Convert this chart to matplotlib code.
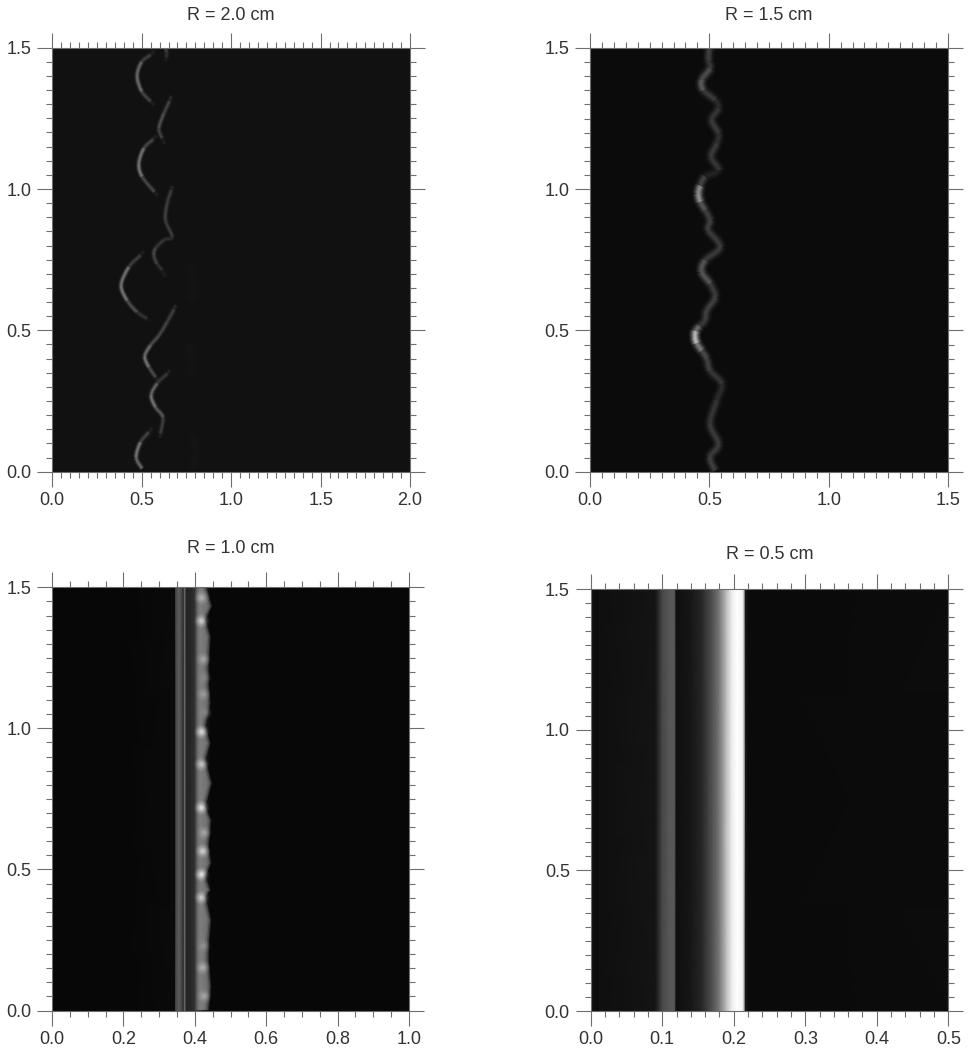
import numpy as np
import matplotlib
matplotlib.use("Agg")
import matplotlib.pyplot as plt
from matplotlib.collections import PathCollection
from matplotlib.path import Path
from matplotlib.ticker import FixedLocator, FormatStrFormatter

plt.rcParams['font.family'] = ['Liberation Sans', 'DejaVu Sans']

# R = 2.0 cm: separate bright strands (x, y, brightness)
r20_arc1_x = [.57, .55, .50, .474, .50, .55, .57]
r20_arc1_y = [1.49, 1.475, 1.45, 1.40, 1.345, 1.31, 1.295]
r20_arc1_b = [.08, .2, .38, .58, .42, .2, .08]
r20_top_x = [.63, .64, .637, .63]
r20_top_y = [1.5, 1.485, 1.465, 1.45]
r20_top_b = [.3, .28, .16, .08]
r20_s1_x = [.665, .655, .624, .596, .614, .63]
r20_s1_y = [1.33, 1.31, 1.268, 1.215, 1.18, 1.16]
r20_s1_b = [.1, .26, .34, .4, .2, .08]
r20_arc2_x = [.585, .564, .512, .484, .502, .571, .59]
r20_arc2_y = [1.19, 1.176, 1.144, 1.09, 1.044, .99, .975]
r20_arc2_b = [.08, .22, .42, .65, .46, .2, .08]
r20_s2_x = [.67, .665, .642, .633, .67, .625, .577, .568, .586, .614, .63]
r20_s2_y = [1.01, .996, .949, .89, .831, .82, .79, .765, .735, .713, .69]
r20_s2_b = [.1, .26, .3, .3, .26, .16, .34, .34, .26, .18, .08]
r20_arc3_x = [.51, .493, .428, .385, .418, .474, .53, .55]
r20_arc3_y = [.78, .766, .724, .66, .606, .565, .541, .53]
r20_arc3_b = [.08, .2, .38, .68, .42, .32, .14, .08]
r20_s3_x = [.69, .68, .642, .596, .549, .517, .54, .577, .59]
r20_s3_y = [.59, .574, .53, .482, .447, .408, .37, .335, .32]
r20_s3_b = [.1, .28, .3, .34, .36, .62, .46, .22, .08]
r20_s4_x = [.655, .642, .586, .553, .577, .618, .605, .6]
r20_s4_y = [.36, .347, .312, .27, .228, .193, .135, .12]
r20_s4_b = [.1, .22, .3, .64, .46, .36, .22, .08]
r20_arc4_x = [.56, .54, .493, .469, .502]
r20_arc4_y = [.155, .14, .104, .051, .011]
r20_arc4_b = [.08, .2, .42, .68, .28]
r20_faint_x = [.77, .79, .78]
r20_faint_y = [.74, .66, .60]
r20_faint2_x = [.76, .78, .77]
r20_faint2_y = [.45, .40, .34]
r20_faint3_x = [.79, .80, .79]
r20_faint3_y = [.13, .07, .01]

# R = 1.5 cm: one wavy ridge
r15_x = [.500, .496, .503, .468, .475, .524, .538, .510, .538, .531, .507, .538, .482, .462, .454, .462, .482,
         .503, .496, .545, .482, .468, .503, .524, .489, .482, .458, .443, .440, .447, .468, .489, .503, .552,
         .531, .503, .538, .503, .524]
r15_y = [1.499, 1.458, 1.428, 1.387, 1.351, 1.316, 1.286, 1.245, 1.198, 1.162, 1.115, 1.068, 1.044, 1.012, .985,
         .955, .926, .890, .855, .796, .748, .707, .666, .618, .571, .536, .515, .498, .477, .455, .429, .400,
         .358, .311, .252, .169, .098, .051, .004]
r15_b = [.3, .3, .22, .5, .35, .2, .2, .3, .25, .2, .35, .15, .18, .45, .85, .5, .3, .3, .3, .25, .3, .5, .3, .25,
         .35, .25, .3, .7, 1.0, .75, .4, .3, .3, .2, .2, .3, .25, .3, .3]

# R = 1.0 cm: vertical band profile, wavy edge of the ridge, bright blobs
r10_profile_x = [0, .2, .33, .345, .347, .355, .362, .366, .369, .371, .374, .377, .39, .40, .41, .425, .445, 1.0]
r10_profile_v = [.03, .03, .04, .05, .28, .36, .30, .22, .18, .42, .30, .14, .16, .2, .24, .14, .03, .03]
r10_edge_x = [.433, .447, .429, .443, .441, .438, .438, .443, .429, .443, .429, .447, .429, .445, .438, .445,
              .429, .443, .429, .445, .438, .438, .445, .438]
r10_edge_y = [1.499, 1.434, 1.387, 1.328, 1.280, 1.221, 1.162, 1.091, 1.008, .949, .890, .807, .725, .677, .583,
              .524, .477, .429, .406, .323, .229, .181, .087, .004]
r10_blob_x = [.419, .419, .424, .426, .424, .428, .419, .419, .419, .426, .422, .419, .419, .424, .422, .426]
r10_blob_y = [1.463, 1.381, 1.245, 1.180, 1.121, 1.056, .988, .873, .719, .630, .565, .482, .400, .228, .152, .051]
r10_blob_b = [.75, .9, .7, .55, .65, .55, .95, .85, 1.0, .7, .9, 1.0, .9, .6, .75, .7]

# R = 0.5 cm: vertical band profile
r05_profile_x = [0, .01, .012, .09, .095, .10, .11, .116, .118, .1195, .14, .155, .171, .18, .19, .197, .204, .21,
                 .2135, .2165, .22, .5]
r05_profile_v = [.07, .04, .06, .08, .17, .28, .34, .35, .3, .06, .09, .15, .33, .47, .75, .92, 1.0, .97, .9, .1,
                 .04, .05]

TICK_COLOR = '#6e6e6e'
TEXT_COLOR = '#333333'
W, H = 972, 1054


def add_panel(left, right, top, bottom, xmax, bg, title, pad, xmajor, xmid, xminor):
    ax = fig.add_axes([left / W, 1 - bottom / H, (right - left) / W, (bottom - top) / H])
    ax.set_xlim(0, xmax)
    ax.set_ylim(0, 1.5)
    ax.set_facecolor(bg)
    ax.set_title(title, pad=pad, fontsize=13, color=TEXT_COLOR)
    setup_axis(ax.xaxis, xmajor, xmid, xminor, xmax)
    setup_axis(ax.yaxis, .5, .1, .05, 1.5)
    ax.tick_params(which='major', length=10.5, width=.8, color=TICK_COLOR, top=True, right=True,
                   labelsize=13, labelcolor=TEXT_COLOR)
    ax.tick_params(which='minor', length=4.5, width=.8, color=TICK_COLOR, top=True, right=True)
    ax.tick_params(axis='x', which='major', pad=4)
    ax.tick_params(axis='y', which='major', pad=4.5)
    for spine in ax.spines.values():
        spine.set_color(TICK_COLOR)
        spine.set_linewidth(.8)
    return ax


def setup_axis(axis, major, mid, minor, vmax):
    majors = np.arange(0, vmax + major / 2, major)
    minors = np.arange(0, vmax + minor / 2, minor)
    minors = [v for v in minors if np.min(np.abs(majors - v)) > 1e-6]
    axis.set_major_locator(FixedLocator(majors))
    axis.set_minor_locator(FixedLocator(minors))
    axis.set_major_formatter(FormatStrFormatter('%.1f'))
    if mid is None:
        for tick in axis.get_minor_ticks(len(minors)):
            for line in (tick.tick1line, tick.tick2line):
                line.set_markersize(6)
        return
    for v, tick in zip(minors, axis.get_minor_ticks(len(minors))):
        if abs(v / mid - round(v / mid)) < 1e-6:
            tick.tick1line.set_markersize(6.5)
            tick.tick2line.set_markersize(6.5)


def glow(ax, xs, ys, bs=None, width=1.6):
    # smooth curve through the read points, drawn as stacked translucent strokes
    pts = np.column_stack([xs, ys])
    if bs is None:
        bs = [.085] * len(pts)
    paths, grays = [], []
    for i in range(len(pts) - 1):
        p0 = pts[max(i - 1, 0)]
        p1, p2 = pts[i], pts[i + 1]
        p3 = pts[min(i + 2, len(pts) - 1)]
        c1 = p1 + (p2 - p0) / 6
        c2 = p2 - (p3 - p1) / 6
        paths.append(Path([p1, c1, c2, p2], [Path.MOVETO, Path.CURVE4, Path.CURVE4, Path.CURVE4]))
        grays.append((bs[i] + bs[i + 1]) / 2)
    for scale, alpha in ((4.6, .1), (3.4, .2), (2.4, .3), (1.5, .4), (.7, .35)):
        colors = [(g, g, g) for g in grays]
        col = PathCollection(paths, facecolors='none', edgecolors=colors, linewidths=width * scale, alpha=alpha,
                             capstyle='butt')
        ax.add_collection(col)


def bands(ax, xs, vs):
    zz = np.array([vs, vs])
    ax.pcolormesh(xs, [0, 1.5], zz, shading='gouraud', cmap='gray', vmin=0, vmax=1)


fig = plt.figure(figsize=(W / 100, H / 100), dpi=100)

ax1 = add_panel(52.3, 410, 47.7, 471.7, 2.0, '#111111', 'R = 2.0 cm', 20, .5, .1, .05)
strands = [
    (r20_arc1_x, r20_arc1_y, r20_arc1_b), (r20_top_x, r20_top_y, r20_top_b), (r20_s1_x, r20_s1_y, r20_s1_b),
    (r20_arc2_x, r20_arc2_y, r20_arc2_b), (r20_s2_x, r20_s2_y, r20_s2_b), (r20_arc3_x, r20_arc3_y, r20_arc3_b),
    (r20_s3_x, r20_s3_y, r20_s3_b), (r20_s4_x, r20_s4_y, r20_s4_b), (r20_arc4_x, r20_arc4_y, r20_arc4_b),
]
for xs, ys, bs in strands:
    glow(ax1, xs, ys, bs, width=1.0)
for xs, ys in ((r20_faint_x, r20_faint_y), (r20_faint2_x, r20_faint2_y), (r20_faint3_x, r20_faint3_y)):
    glow(ax1, xs, ys, width=3.5)

ax2 = add_panel(590, 948, 48, 471.7, 1.5, '#0b0b0b', 'R = 1.5 cm', 20, .5, .1, .05)
glow(ax2, r15_x, r15_y, r15_b, width=1.9)

ax3 = add_panel(52, 409, 587.3, 1010.5, 1.0, '#080808', 'R = 1.0 cm', 25, .2, .1, .05)
bands(ax3, r10_profile_x, r10_profile_v)
edge = np.array(r10_edge_x)
for offset, alpha in ((0, .2), (.003, .25), (.007, .3), (.012, .25)):
    ax3.fill_betweenx(r10_edge_y, .40 + offset, edge - offset, color='#a0a0a0', alpha=alpha, lw=0)
for size, alpha in ((110, .08), (75, .12), (45, .18), (22, .28), (8, .4)):
    grays = [(b, b, b) for b in r10_blob_b]
    ax3.scatter(r10_blob_x, r10_blob_y, s=size, c=grays, alpha=alpha, linewidths=0)

ax4 = add_panel(590.7, 948.3, 589, 1011, .5, '#0d0d0d', 'R = 0.5 cm', 21.5, .1, None, .02)
bands(ax4, r05_profile_x, r05_profile_v)

fig.savefig('out.png', dpi=100, facecolor='white')
